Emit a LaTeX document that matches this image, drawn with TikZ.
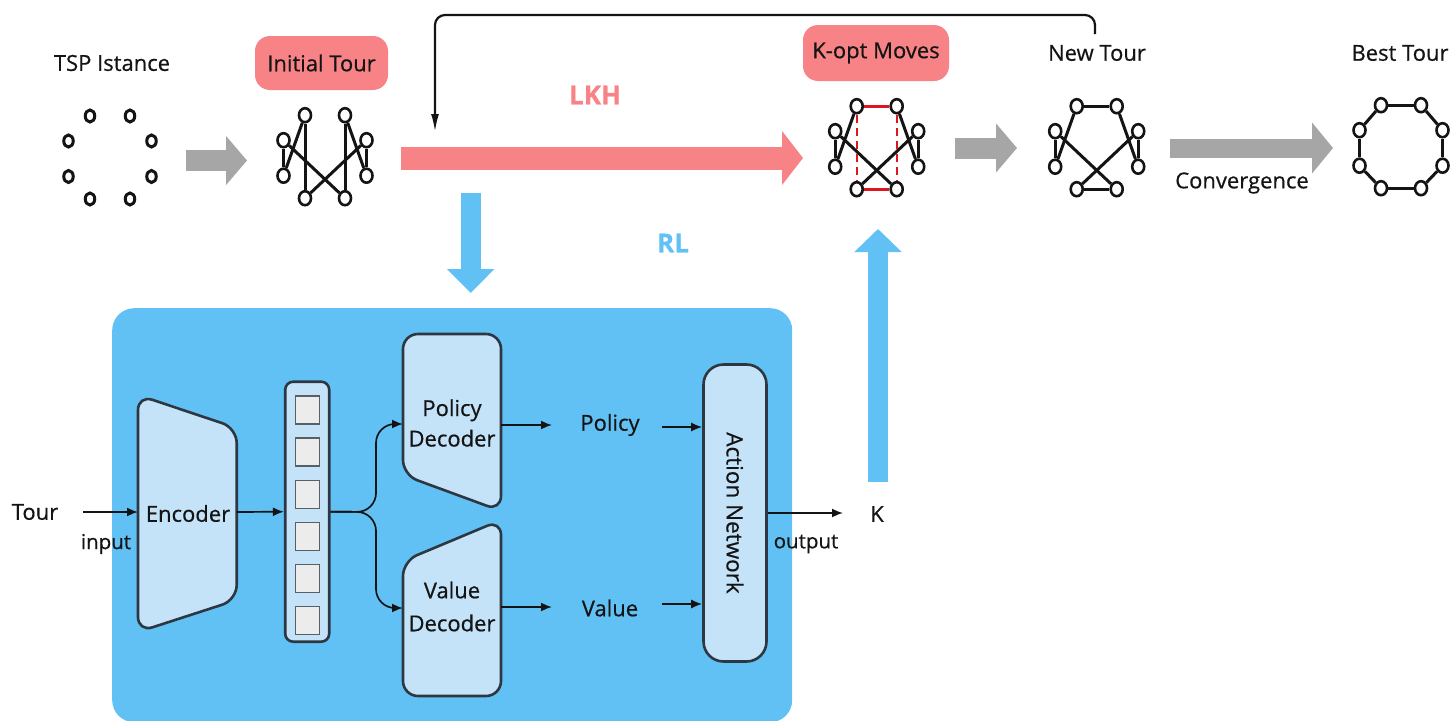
\documentclass[tikz,border=0pt]{standalone}
\usepackage{fontspec}
\setmainfont{Open Sans}[FakeBold=0.5]
\usetikzlibrary{arrows.meta,shapes.geometric}
\definecolor{pinkc}{RGB}{247,131,134}
\definecolor{bluec}{RGB}{97,193,245}
\definecolor{lblue}{RGB}{197,227,248}
\definecolor{grayc}{RGB}{166,166,166}
\definecolor{dark}{RGB}{45,55,65}
\definecolor{txt}{RGB}{20,20,20}
\definecolor{redc}{RGB}{222,22,30}
\definecolor{sqc}{RGB}{236,236,236}
\newcommand\tourpts[4]{%
  \foreach \n/\dx/\dy in {TL/-20/-41.5,TR/20/-41.5,LU/-41.5/-16.5,RU/41.5/-16.5,LL/-41.5/19,RL/41.5/19,BL/-20/41.5,BR/20/41.5}{%
    \node[#4] (#1\n) at ({#2+\dx},{#3+\dy}) {};}}
\newcommand\tedges[3]{\foreach \a/\b in {#3}{\draw[#2] (#1\a) -- (#1\b);}}
\begin{document}
\begin{tikzpicture}[x=1pt,y=-1pt,
  lbl/.style={font=\fontsize{22}{25}\selectfont, text=txt, inner sep=0pt},
  slbl/.style={font=\fontsize{20.5}{24}\selectfont, text=txt, inner sep=0pt},
  big/.style={font=\fontsize{26}{30}\selectfont\bfseries, inner sep=0pt},
  vtx/.style={ellipse, draw=txt, fill=white, line width=2.6pt, minimum width=12pt, minimum height=14pt, inner sep=0pt},
  pt/.style={ellipse, draw=txt, line width=3pt, minimum width=9.5pt, minimum height=12pt, inner sep=0pt},
  edge/.style={draw=txt, line width=3pt},
  kedge/.style={draw=redc, line width=3pt},
  kdash/.style={draw=redc, line width=2.4pt, dash pattern=on 8pt off 5pt},
  tag/.style={fill=pinkc, rounded corners=15pt, lbl},
  blockarr/.style={#1, line width=21pt, -{Triangle[length=21pt,width=48pt]}},
  arr/.style={draw=txt, line width=1.7pt, -{Latex[length=11pt,width=9pt]}},
  shapeline/.style={draw=dark, fill=lblue, line width=2.6pt, rounded corners=15pt},
]
\useasboundingbox (0,0) rectangle (1453,720);
\fill[white] (0,0) rectangle (1453,720);

% ---------- top row labels ----------
\node[lbl] (tsplbl) at (112,63) {TSP Istance};
\node[tag, minimum width=133, minimum height=54] (inittag) at (321.5,63) {Initial Tour};
\node[tag, minimum width=146, minimum height=56] (kopttag) at (876,53) {K-opt Moves};
\node[lbl] (newlbl) at (1097,53) {New Tour};
\node[lbl] (bestlbl) at (1400,53) {Best Tour};
\node[big, text=pinkc] (lkh) at (595,95) {LKH};
\node[big, text=bluec] (rl) at (673,243) {RL};

% ---------- tours ----------
\tourpts{S}{110}{157.5}{pt}
\tourpts{I}{325}{156.7}{vtx}
\tedges{I}{edge}{TL/LL,TL/BL,LU/LL,LU/BR,TR/RL,TR/BR,RU/RL,RU/BL}
\tourpts{K}{876.7}{147.7}{vtx}
\tedges{K}{edge}{TL/LL,LU/LL,LU/BR,TR/RL,RU/RL,RU/BL}
\tedges{K}{kedge}{TL/TR,BL/BR}
\tedges{K}{kdash}{TL/BL,TR/BR}
\tourpts{N}{1096.7}{147.7}{vtx}
\tedges{N}{edge}{TL/TR,TL/LL,LU/LL,LU/BR,BL/BR,RU/BL,RU/RL,TR/RL}
\tourpts{B}{1401}{146.7}{vtx}
\tedges{B}{edge}{TL/TR,TR/RU,RU/RL,RL/BR,BR/BL,BL/LL,LL/LU,LU/TL}

% ---------- block arrows ----------
\coordinate (g1a) at (186,160.5); \coordinate (g1b) at (247,160.5);
\coordinate (g2a) at (955,148);   \coordinate (g2b) at (1017,148);
\coordinate (g3a) at (1170,148);  \coordinate (g3b) at (1333,148);
\coordinate (pka) at (401,158);   \coordinate (pkb) at (803,158);
\coordinate (bda) at (470.7,193); \coordinate (bdb) at (470.7,293);
\coordinate (bua) at (878,482);   \coordinate (bub) at (878,229);
\draw[blockarr=grayc] (g1a) -- (g1b);
\draw[blockarr=grayc] (g2a) -- (g2b);
\draw[blockarr=grayc, line width=19pt, -{Triangle[length=21pt,width=50pt]}] (g3a) -- (g3b);
\draw[blockarr=pinkc, line width=23pt, -{Triangle[length=21pt,width=53pt]}] (pka) -- (pkb);
\draw[blockarr=bluec, line width=20pt, -{Triangle[length=24pt,width=46pt]}] (bda) -- (bdb);
\draw[blockarr=bluec, line width=19.5pt, -{Triangle[length=23pt,width=46pt]}] (bua) -- (bub);
\node[lbl] (conv) at (1242,183) {Convergence};

% ---------- feedback arrow ----------
\coordinate (fbA) at (1095,34);
\coordinate (fbC) at (760,15);
\coordinate (fbB) at (435,132);
\draw[draw=txt, line width=2.2pt, rounded corners=10pt, -{Latex[length=18pt,width=8pt]}] (fbA) |- (fbC) -| (fbB);

% ---------- RL box ----------
\node[fill=bluec, rounded corners=22pt, minimum width=680, minimum height=414, anchor=north west, inner sep=0pt] (rlbox) at (112,308) {};

% encoder
\draw[shapeline] (138,395) -- (236.7,428) -- (236.7,600) -- (138,632) -- cycle;
\node[lbl] (enc) at (188,513.5) {Encoder};
% decoders
\draw[shapeline] (403,334) -- (501,334) -- (501,511) -- (403,475) -- cycle;
\node[lbl, align=center, font=\fontsize{22}{30.5}\selectfont] (poldec) at (452,423) {Policy\\Decoder};
\draw[shapeline] (403,561) -- (501,520) -- (501,696) -- (403,696) -- cycle;
\node[lbl, align=center, font=\fontsize{22}{33}\selectfont] (valdec) at (452,606.5) {Value\\Decoder};
% vector
\node[draw=dark, fill=lblue, line width=2.6pt, rounded corners=8pt, minimum width=44, minimum height=260, inner sep=0pt] (vec) at (307.2,511.7) {};
\foreach \i in {0,...,5}{
  \node[draw=dark!80, fill=sqc, line width=1.4pt, minimum width=24, minimum height=28, inner sep=0pt] (sq\i) at (307.2,{410+42.15*\i}) {};}
% action network
\node[draw=dark, fill=lblue, line width=2.6pt, rounded corners=20pt, minimum width=63, minimum height=297, inner sep=0pt] (act) at (735,513) {};
\node[lbl, rotate=-90, font=\fontsize{22.5}{26}\selectfont] (actlbl) at (act.center) {Action Network};

% labels
\node[lbl] (tour) at (35,512) {Tour};
\node[slbl] (inp) at (106,544) {input};
\node[lbl] (pol) at (610,425) {Policy};
\node[lbl] (val) at (610,608) {Value};
\node[slbl] (outp) at (806,544) {output};
\node[lbl] (kk) at (877,514) {K};

% connectors
\coordinate (tourout) at (83,512);
\coordinate (encin) at (138,512);
\coordinate (encout) at (236.7,512);
\coordinate (br) at (376,512);
\coordinate (polin) at (403,424);
\coordinate (valin) at (403,608);
\coordinate (polout) at (501,425);
\coordinate (polend) at (552,425);
\coordinate (valout) at (501,607);
\coordinate (valend) at (552,607);
\coordinate (pa) at (662,427);
\coordinate (va) at (662,604);
\coordinate (outend) at (843,513);
\draw[arr] (tourout) -- (encin);
\draw[arr] (encout) -- (vec.west);
\draw[arr, rounded corners=19pt] (vec.east) -- (br) |- (polin);
\draw[arr, rounded corners=19pt] (vec.east) -- (br) |- (valin);
\draw[arr] (polout) -- (polend);
\draw[arr] (valout) -- (valend);
\draw[arr] (pa) -- (pa -| act.west);
\draw[arr] (va) -- (va -| act.west);
\draw[arr] (act.east) -- (outend);
\end{tikzpicture}
\end{document}
